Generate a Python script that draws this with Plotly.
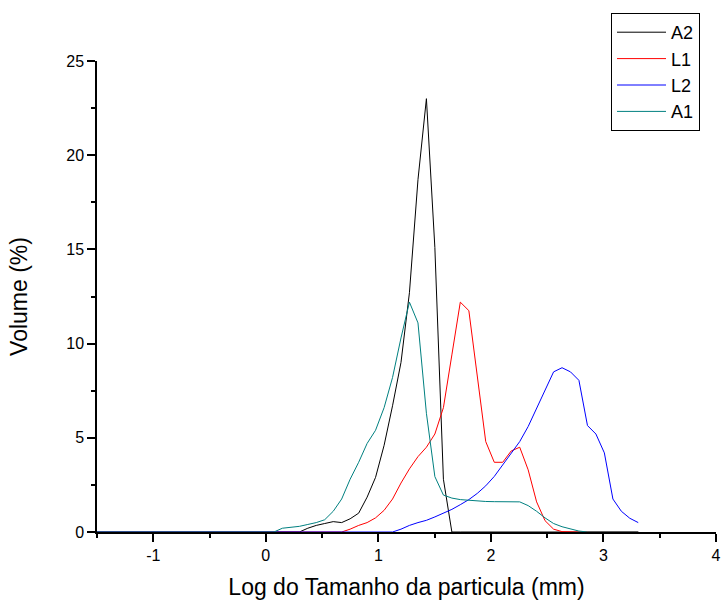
import plotly.graph_objects as go

x_vals = [-1.5, -1.0, -0.5, -0.004, 0.072, 0.147, 0.222, 0.298, 0.373, 0.448, 0.523,
          0.599, 0.674, 0.749, 0.825, 0.900, 0.975, 1.051, 1.126, 1.201, 1.276,
          1.352, 1.427, 1.502, 1.578, 1.653, 1.728, 1.804, 1.879, 1.954, 2.030,
          2.105, 2.180, 2.256, 2.331, 2.406, 2.481, 2.557, 2.632, 2.707, 2.782,
          2.858, 2.933, 3.008, 3.084, 3.159, 3.234, 3.309]

a2 = [0, 0, 0, 0, 0, 0, 0, 0, 0.2, 0.35, 0.45,
      0.55, 0.5, 0.7, 1.0, 1.85, 2.9, 4.6, 6.7, 9.0, 12.7,
      18.7, 23.0, 15.1, 2.8, 0, 0, 0, 0, 0, 0,
      0, 0, 0, 0, 0, 0, 0, 0, 0, 0,
      0, 0, 0, 0, 0, 0, 0]

l1 = [0, 0, 0, 0, 0, 0, 0, 0, 0, 0, 0,
      0, 0, 0.15, 0.35, 0.5, 0.75, 1.15, 1.75, 2.6, 3.35,
      4.0, 4.5, 5.2, 6.6, 9.4, 12.2, 11.75, 8.2, 4.8, 3.7,
      3.7, 4.3, 4.5, 3.3, 1.6, 0.6, 0.15, 0.02, 0, 0,
      0, 0, 0, 0, 0, 0, 0]

l2 = [0, 0, 0, 0, 0, 0, 0, 0, 0, 0, 0,
      0, 0, 0, 0, 0, 0, 0, 0, 0.15, 0.35,
      0.5, 0.62, 0.8, 1.0, 1.2, 1.45, 1.72, 2.05, 2.45, 2.95,
      3.55, 4.15, 4.8, 5.6, 6.55, 7.55, 8.5, 8.72, 8.5, 8.05,
      5.65, 5.2, 4.2, 1.75, 1.1, 0.73, 0.5]

a1 = [0, 0, 0, 0, 0, 0.2, 0.25, 0.3, 0.4, 0.5, 0.65,
      1.1, 1.75, 2.8, 3.7, 4.7, 5.4, 6.6, 8.2, 10.3, 12.2,
      11.1, 6.3, 2.94, 1.96, 1.8, 1.72, 1.68, 1.64, 1.62, 1.61,
      1.61, 1.61, 1.6, 1.4, 1.1, 0.75, 0.45, 0.28, 0.15, 0.05,
      0, 0, 0, 0, 0, 0, 0]

x_ticks = [-1, 0, 1, 2, 3, 4]
x_ticktext = ["-1", "0", "1", "2", "3", "4"]
y_ticks = [0, 5, 10, 15, 20, 25]

series = [("A2", a2, "#000000"), ("L1", l1, "#FF0000"),
          ("L2", l2, "#0000FF"), ("A1", a1, "#008080")]

fig = go.Figure()
for name, ys, col in series:
    fig.add_trace(go.Scatter(x=x_vals, y=ys, mode="lines", name=name,
                             line=dict(color=col, width=1)))

axis_common = dict(showgrid=False, zeroline=False, showline=True, linecolor="black",
                   linewidth=1.5, ticks="outside", ticklen=8, tickwidth=1.5,
                   tickcolor="black", tickfont=dict(size=16, color="black"),
                   automargin=False)

fig.update_layout(
    width=721, height=603,
    margin=dict(l=97, r=5, t=61, b=71),
    plot_bgcolor="white", paper_bgcolor="white",
    font=dict(family="Liberation Sans, Arial", color="black"),
    xaxis=dict(range=[-1.5, 4], tickvals=x_ticks, ticktext=x_ticktext,
               minor=dict(ticks="outside", ticklen=4, tickwidth=1.5, tickcolor="black", dtick=0.5),
               title=dict(text="Log do Tamanho da particula (mm)", font=dict(size=23), standoff=16),
               **axis_common),
    yaxis=dict(range=[0, 25], tickvals=y_ticks,
               minor=dict(ticks="outside", ticklen=4, tickwidth=1.5, tickcolor="black", dtick=2.5),
               title=dict(text="Volume (%)", font=dict(size=23), standoff=32),
               **axis_common),
    legend=dict(x=(611 - 97) / 619, y=(532 - 13) / 471, xanchor="left", yanchor="top",
                bordercolor="black", borderwidth=1, bgcolor="white",
                font=dict(size=18), tracegroupgap=0, itemwidth=49),
    showlegend=True,
)

fig.write_html("out.html")
